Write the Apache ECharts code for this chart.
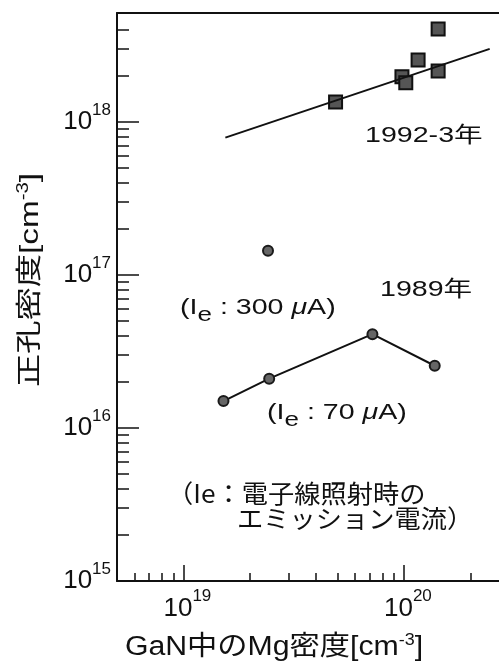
<!DOCTYPE html>
<html>
<head>
<meta charset="utf-8">
<script src="https://cdn.jsdelivr.net/npm/echarts@6/dist/echarts.min.js"></script>
<style>
html, body { margin: 0; padding: 0; background: #fff; }
#chart { width: 499px; height: 669px; }
</style>
</head>
<body>
<div id="chart"></div>
<script>
// 1992-3年 のデータ (Mg密度, 正孔密度)
var mg9293 = [4.9e19, 9.8e19, 1.02e20, 1.16e20, 1.43e20, 1.43e20];
var hole9293 = [1.35e18, 1.97e18, 1.8e18, 2.54e18, 2.15e18, 4.05e18];
// 1992-3年 の近似直線
var fitMg = [1.55e19, 2.45e20];
var fitHole = [7.9e17, 3.0e18];
// 1989年 (Ie:70μA)
var mg89 = [1.52e19, 2.45e19, 7.2e19, 1.38e20];
var hole89 = [1.5e16, 2.1e16, 4.1e16, 2.55e16];
// 1989年 (Ie:300μA)
var mg89hi = [2.42e19];
var hole89hi = [1.44e17];
// 目盛り
var xMajor = [1e19, 1e20];
var yMajor = [1e15, 1e16, 1e17, 1e18];
var xMinor = [6e18, 7e18, 8e18, 9e18, 2e19, 3e19, 4e19, 5e19, 6e19, 7e19, 8e19, 9e19, 2e20];
var yMinor = [];
[1e15, 1e16, 1e17].forEach(function (d) {
    for (var k = 2; k <= 9; k++) yMinor.push(k * d);
});
yMinor.push(2e18, 3e18, 4e18);

function pairs(xs, ys) {
    return xs.map(function (x, i) { return [x, ys[i]]; });
}

var latin = 'Liberation Sans, Arial, sans-serif';
var cjk = 'Liberation Sans, Noto Sans CJK JP, sans-serif';
var ink = '#111';

function powLabel(v) {
    return '{b|10}{s|' + Math.round(Math.log10(v)) + '}';
}
var yRich = {
    b: {fontSize: 26, fontFamily: latin, color: ink},
    s: {fontSize: 17, fontFamily: latin, color: ink, padding: [0, 0, 24, 0]}
};
var xRich = {
    b: {fontSize: 26, fontFamily: latin, color: ink, padding: [0, 0, 0, 8]},
    s: {fontSize: 17, fontFamily: latin, color: ink, padding: [0, 0, 24, 0]}
};

var chart = echarts.init(document.getElementById('chart'));

var xBase = {type: 'log', logBase: 10, min: 5e18, max: 2.7e20, splitLine: {show: false}};
var yBase = {type: 'log', logBase: 10, min: 1e15, max: 5.15e18, splitLine: {show: false}};

var noteRich = {
    sub: {fontSize: 20, fontFamily: latin, fill: ink, padding: [14, 0, 0, 0]},
    mu: {fontSize: 22, fontFamily: latin, fontStyle: 'italic', fill: ink}
};

var option = {
    animation: false,
    backgroundColor: '#fff',
    grid: {left: 117, right: 0, top: 13, bottom: 88},
    xAxis: [
        echarts.util.merge({
            position: 'bottom',
            axisLine: {lineStyle: {color: ink, width: 2}},
            axisTick: {inside: true, length: 16, customValues: xMajor, lineStyle: {color: ink, width: 1.5}},
            axisLabel: {customValues: xMajor, margin: 7, formatter: powLabel, rich: xRich}
        }, xBase),
        echarts.util.merge({
            position: 'bottom',
            axisLine: {show: false},
            axisTick: {inside: true, length: 8, customValues: xMinor, lineStyle: {color: ink, width: 1.5}},
            axisLabel: {show: false}
        }, xBase),
        echarts.util.merge({
            position: 'top',
            axisLine: {lineStyle: {color: ink, width: 2}},
            axisTick: {show: false},
            axisLabel: {show: false}
        }, xBase)
    ],
    yAxis: [
        echarts.util.merge({
            position: 'left',
            axisLine: {show: true, lineStyle: {color: ink, width: 2}},
            axisTick: {show: true, inside: true, length: 22, customValues: yMajor, lineStyle: {color: ink, width: 1.5}},
            axisLabel: {customValues: yMajor, margin: 6, formatter: powLabel, rich: yRich}
        }, yBase),
        echarts.util.merge({
            position: 'left',
            axisLine: {show: false},
            axisTick: {show: true, inside: true, length: 12, customValues: yMinor, lineStyle: {color: ink, width: 1.5}},
            axisLabel: {show: false}
        }, yBase)
    ],
    series: [
        {
            name: '1992-3年 近似',
            type: 'line',
            data: pairs(fitMg, fitHole),
            symbol: 'none',
            lineStyle: {color: ink, width: 2}
        },
        {
            name: '1992-3年',
            type: 'scatter',
            data: pairs(mg9293, hole9293),
            symbol: 'rect',
            symbolSize: 13,
            itemStyle: {color: '#555', borderColor: '#111', borderWidth: 2, opacity: 1}
        },
        {
            name: '1989年 70uA',
            type: 'line',
            data: pairs(mg89, hole89),
            symbol: 'circle',
            symbolSize: 10,
            showAllSymbol: true,
            lineStyle: {color: ink, width: 2},
            itemStyle: {color: '#666', borderColor: '#1a1a1a', borderWidth: 2}
        },
        {
            name: '1989年 300uA',
            type: 'scatter',
            data: pairs(mg89hi, hole89hi),
            symbol: 'circle',
            symbolSize: 10,
            itemStyle: {color: '#666', borderColor: '#1a1a1a', borderWidth: 2, opacity: 1}
        }
    ],
    graphic: [
        {
            type: 'text', x: 31, y: 280, rotation: Math.PI / 2, scaleX: 1.28,
            style: {
                text: '正孔密度[cm{s|-3}]',
                font: '26px ' + cjk, fill: ink, align: 'center', verticalAlign: 'middle',
                rich: {s: {fontSize: 16, fontFamily: latin, fill: ink, padding: [0, 0, 14, 0]}}
            }
        },
        {
            type: 'text', x: 274, y: 648, scaleX: 1.12,
            style: {
                text: 'GaN中のMg密度[cm{s|-3}]',
                font: '27px ' + cjk, fill: ink, align: 'center', verticalAlign: 'middle',
                rich: {s: {fontSize: 16, fontFamily: latin, fill: ink, padding: [0, 0, 14, 0]}}
            }
        },
        {
            type: 'text', x: 365, y: 136, scaleX: 1.3,
            style: {text: '1992-3年', font: '22px ' + cjk, fill: ink, align: 'left', verticalAlign: 'middle'}
        },
        {
            type: 'text', x: 380, y: 290, scaleX: 1.3,
            style: {text: '1989年', font: '22px ' + cjk, fill: ink, align: 'left', verticalAlign: 'middle'}
        },
        {
            type: 'text', x: 180, y: 308, scaleX: 1.3,
            style: {
                text: '(I{sub|e} : 300 {mu|μ}A)',
                font: '22px ' + latin, fill: ink, align: 'left', verticalAlign: 'middle',
                rich: noteRich
            }
        },
        {
            type: 'text', x: 267, y: 413, scaleX: 1.3,
            style: {
                text: '(I{sub|e} : 70 {mu|μ}A)',
                font: '22px ' + latin, fill: ink, align: 'left', verticalAlign: 'middle',
                rich: noteRich
            }
        },
        {
            type: 'text', x: 167, y: 493, scaleX: 1.05,
            style: {text: '（Ie：電子線照射時の', font: '25px Noto Sans CJK JP, sans-serif', fill: ink, align: 'left', verticalAlign: 'middle'}
        },
        {
            type: 'text', x: 237, y: 518, scaleX: 1.05,
            style: {text: 'エミッション電流）', font: '25px Noto Sans CJK JP, sans-serif', fill: ink, align: 'left', verticalAlign: 'middle'}
        }
    ]
};

chart.setOption(option);
</script>
</body>
</html>
